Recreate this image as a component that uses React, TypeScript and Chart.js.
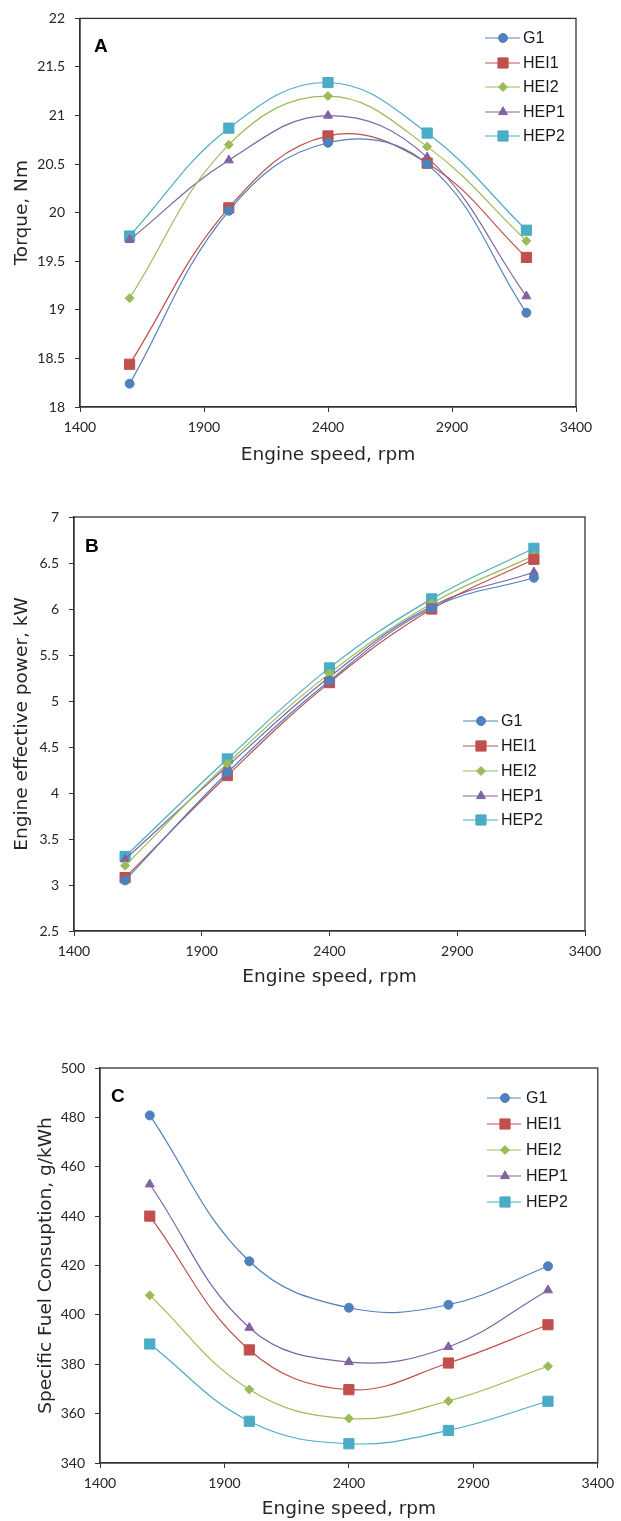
import React, { useEffect, useRef } from 'react';
import { Chart, registerables } from 'chart.js';
import * as helpers from 'chart.js/helpers';

Chart.register(...registerables);

// Engine speeds (rpm) at which every fuel blend was tested
const engineSpeeds = [1600, 2000, 2400, 2800, 3200];
const speedTicks = [1400, 1900, 2400, 2900, 3400];

const seriesNames = ['G1', 'HEI1', 'HEI2', 'HEP1', 'HEP2'];

// Torque, Nm
const torqueG1 = [18.24, 20.02, 20.72, 20.5, 18.97];
const torqueHEI1 = [18.44, 20.05, 20.79, 20.51, 19.54];
const torqueHEI2 = [19.12, 20.7, 21.2, 20.68, 19.71];
const torqueHEP1 = [19.72, 20.54, 21.0, 20.57, 19.14];
const torqueHEP2 = [19.76, 20.87, 21.34, 20.82, 19.82];
const torqueTicks = [18, 18.5, 19, 19.5, 20, 20.5, 21, 21.5, 22];

// Engine effective power, kW
const powerG1 = [3.05, 4.22, 5.22, 6.01, 6.34];
const powerHEI1 = [3.08, 4.19, 5.2, 6.0, 6.54];
const powerHEI2 = [3.21, 4.32, 5.3, 6.06, 6.58];
const powerHEP1 = [3.28, 4.29, 5.26, 6.03, 6.4];
const powerHEP2 = [3.31, 4.37, 5.36, 6.11, 6.66];
const powerTicks = [2.5, 3, 3.5, 4, 4.5, 5, 5.5, 6, 6.5, 7];

// Specific fuel consumption, g/kWh
const sfcG1 = [480.8, 421.7, 402.9, 404.1, 419.7];
const sfcHEI1 = [440.0, 385.8, 369.7, 380.5, 396.0];
const sfcHEI2 = [407.9, 369.8, 358.0, 365.1, 379.2];
const sfcHEP1 = [452.9, 394.8, 380.9, 387.0, 410.0];
const sfcHEP2 = [388.2, 356.9, 347.8, 353.2, 365.0];
const sfcTicks = [340, 360, 380, 400, 420, 440, 460, 480, 500];

// Series styling
const seriesColors = ['#4F81BD', '#C0504D', '#9BBB59', '#8064A2', '#4BACC6'];
const markerStyles = ['circle', 'rect', 'rectRot', 'triangle', 'rect'];
const markerRadii = [4.5, 7.2, 4.5, 5.2, 7.2];

const PAGE_WIDTH = 621;
const AXIS_COLOR = '#333333';
const TEXT_COLOR = '#262626';
const TICK_FONT = { family: 'Lato, "Liberation Sans", Arial, sans-serif', size: 14 };
const TITLE_FONT = { family: '"DejaVu Sans", Verdana, sans-serif', size: 18.5 };
const LEGEND_FONT = '16px "Liberation Sans", Arial, sans-serif';
const LETTER_FONT = 'bold 19px "Liberation Sans", Arial, sans-serif';

type PanelSpec = {
  id: string;
  letter: string;
  top: number;
  height: number;
  plot: { left: number; right: number; top: number; bottom: number };
  series: number[][];
  yTicks: number[];
  yTitle: string;
  yTitleCenterX: number;
  xTitleCenterY: number;
  legend: { lineStart: number; lineEnd: number; markerX: number; textX: number; rows: number[] };
  letterPos: { x: number; y: number };
};

const panels: PanelSpec[] = [
  {
    id: 'torque',
    letter: 'A',
    top: 0,
    height: 480,
    plot: { left: 80, right: 576, top: 15, bottom: 407 },
    series: [torqueG1, torqueHEI1, torqueHEI2, torqueHEP1, torqueHEP2],
    yTicks: torqueTicks,
    yTitle: 'Torque, Nm',
    yTitleCenterX: 22,
    xTitleCenterY: 455,
    legend: { lineStart: 485, lineEnd: 520, markerX: 503, textX: 523, rows: [38, 63, 87, 112, 136] },
    letterPos: { x: 94, y: 52 },
  },
  {
    id: 'power',
    letter: 'B',
    top: 490,
    height: 500,
    plot: { left: 74, right: 585, top: 517, bottom: 931 },
    series: [powerG1, powerHEI1, powerHEI2, powerHEP1, powerHEP2],
    yTicks: powerTicks,
    yTitle: 'Engine effective power, kW',
    yTitleCenterX: 22,
    xTitleCenterY: 977,
    legend: { lineStart: 463, lineEnd: 498, markerX: 481, textX: 501, rows: [721, 746, 771, 796, 820] },
    letterPos: { x: 85, y: 552 },
  },
  {
    id: 'sfc',
    letter: 'C',
    top: 990,
    height: 531,
    plot: { left: 100, right: 606, top: 1068, bottom: 1463 },
    series: [sfcG1, sfcHEI1, sfcHEI2, sfcHEP1, sfcHEP2],
    yTicks: sfcTicks,
    yTitle: 'Specific Fuel Consuption, g/kWh',
    yTitleCenterX: 46.5,
    xTitleCenterY: 1509,
    legend: { lineStart: 487, lineEnd: 521, markerX: 505, textX: 526, rows: [1098, 1124, 1150, 1176, 1202] },
    letterPos: { x: 111, y: 1102 },
  },
];

function makeDecorations(spec: PanelSpec) {
  return {
    id: 'decorations_' + spec.id,
    beforeDatasetsDraw(chart: any) {
      const { ctx, chartArea } = chart;
      ctx.save();
      ctx.strokeStyle = AXIS_COLOR;
      ctx.lineWidth = 1.3;
      ctx.strokeRect(chartArea.left, chartArea.top, chartArea.right - chartArea.left, chartArea.bottom - chartArea.top);
      ctx.restore();
    },
    afterDraw(chart: any) {
      const ctx = chart.ctx;
      const lg = spec.legend;
      ctx.save();
      chart.data.datasets.forEach((ds: any, i: number) => {
        const y = lg.rows[i] - spec.top;
        ctx.strokeStyle = ds.borderColor;
        ctx.lineWidth = 1.2;
        ctx.beginPath();
        ctx.moveTo(lg.lineStart, y);
        ctx.lineTo(lg.lineEnd, y);
        ctx.stroke();
        ctx.fillStyle = ds.pointBackgroundColor;
        ctx.strokeStyle = ds.pointBorderColor;
        ctx.lineWidth = 1;
        helpers.drawPoint(ctx, { pointStyle: ds.pointStyle, radius: ds.pointRadius, rotation: 0, borderWidth: 1 }, lg.markerX, y);
        ctx.fillStyle = '#1a1a1a';
        ctx.font = LEGEND_FONT;
        ctx.textAlign = 'left';
        ctx.textBaseline = 'middle';
        ctx.fillText(ds.label, lg.textX, y + 1);
      });
      ctx.fillStyle = '#000000';
      ctx.font = LETTER_FONT;
      ctx.textAlign = 'left';
      ctx.textBaseline = 'alphabetic';
      ctx.fillText(spec.letter, spec.letterPos.x, spec.letterPos.y - spec.top);
      ctx.restore();
    },
  };
}

const plainNumber = (value: number | string) => String(value);

function Panel({ spec }: { spec: PanelSpec }) {
  const canvasRef = useRef<HTMLCanvasElement | null>(null);

  useEffect(() => {
    const canvas = canvasRef.current;
    if (!canvas) return;
    const plotTop = spec.plot.top - spec.top;
    const plotBottom = spec.plot.bottom - spec.top;
    const xAxisHeight = spec.height - plotBottom;
    const titleLine = TITLE_FONT.size * 1.2;

    const datasets = spec.series.map((values, i) => ({
      label: seriesNames[i],
      data: engineSpeeds.map((x, j) => ({ x, y: values[j] })),
      borderColor: seriesColors[i],
      backgroundColor: seriesColors[i],
      borderWidth: 1.2,
      pointStyle: markerStyles[i],
      pointRadius: markerRadii[i],
      pointBackgroundColor: seriesColors[i],
      pointBorderColor: seriesColors[i],
      pointBorderWidth: 1,
      tension: 0.4,
      fill: false,
    }));

    const chart = new Chart(canvas, {
      type: 'line',
      data: { datasets },
      plugins: [makeDecorations(spec)],
      options: {
        animation: false,
        responsive: false,
        devicePixelRatio: 1,
        events: [],
        layout: {
          padding: { left: 0, top: plotTop, right: PAGE_WIDTH - spec.plot.right, bottom: 0 },
        },
        plugins: { legend: { display: false }, tooltip: { enabled: false } },
        scales: {
          x: {
            type: 'linear',
            min: speedTicks[0],
            max: speedTicks[speedTicks.length - 1],
            afterBuildTicks: (scale: any) => {
              scale.ticks = speedTicks.map((v) => ({ value: v }));
            },
            afterFit: (scale: any) => {
              scale.height = xAxisHeight;
            },
            ticks: { font: TICK_FONT, color: TEXT_COLOR, padding: 7, maxRotation: 0, autoSkip: false, callback: plainNumber },
            grid: { display: true, drawOnChartArea: false, drawTicks: true, tickLength: 5, color: AXIS_COLOR, lineWidth: 1 },
            border: { display: true, color: AXIS_COLOR, width: 1.3 },
            title: {
              display: true,
              text: 'Engine speed, rpm',
              font: TITLE_FONT,
              color: TEXT_COLOR,
              padding: { top: 0, bottom: spec.height - (spec.xTitleCenterY - spec.top) - titleLine / 2 },
            },
          },
          y: {
            type: 'linear',
            min: spec.yTicks[0],
            max: spec.yTicks[spec.yTicks.length - 1],
            afterBuildTicks: (scale: any) => {
              scale.ticks = spec.yTicks.map((v) => ({ value: v }));
            },
            afterFit: (scale: any) => {
              scale.width = spec.plot.left;
            },
            ticks: { font: TICK_FONT, color: TEXT_COLOR, padding: 10, autoSkip: false, callback: plainNumber },
            grid: { display: true, drawOnChartArea: false, drawTicks: true, tickLength: 5, color: AXIS_COLOR, lineWidth: 1 },
            border: { display: true, color: AXIS_COLOR, width: 1.3 },
            title: {
              display: true,
              text: spec.yTitle,
              font: TITLE_FONT,
              color: TEXT_COLOR,
              padding: { top: spec.yTitleCenterX - titleLine / 2, bottom: 0 },
            },
          },
        },
      },
    } as any);

    return () => chart.destroy();
  }, [spec]);

  return (
    <div style={{ position: 'absolute', left: 0, top: spec.top, width: PAGE_WIDTH, height: spec.height }}>
      <canvas ref={canvasRef} width={PAGE_WIDTH} height={spec.height} style={{ display: 'block' }} />
    </div>
  );
}

export default function App() {
  return (
    <div style={{ position: 'absolute', left: 0, top: 0, width: PAGE_WIDTH, height: 1521, background: '#ffffff' }}>
      {panels.map((p) => (
        <Panel key={p.id} spec={p} />
      ))}
    </div>
  );
}
